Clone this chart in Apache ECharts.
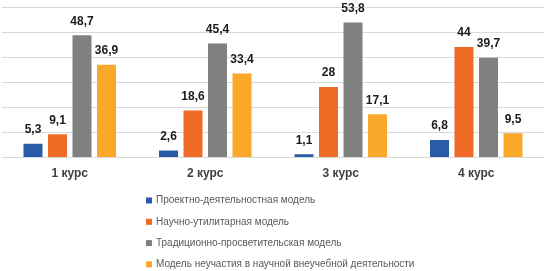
<!DOCTYPE html>
<html><head><meta charset="utf-8">
<script src="https://cdn.jsdelivr.net/npm/echarts@6/dist/echarts.min.js"></script>
<style>html,body{margin:0;padding:0;background:#fff}#c{width:548px;height:271px}</style>
</head><body><div id="c"></div>
<script>
const categories = ['1 курс', '2 курс', '3 курс', '4 курс'];
const seriesNames = ['Проектно-деятельностная модель', 'Научно-утилитарная модель', 'Традиционно-просветительская модель', 'Модель неучастия в научной внеучебной деятельности'];
const projectModel = [5.3, 2.6, 1.1, 6.8];
const utilitarianModel = [9.1, 18.6, 28, 44];
const traditionalModel = [48.7, 45.4, 53.8, 39.7];
const nonParticipation = [36.9, 33.4, 17.1, 9.5];
const colors = ['#2A5BA8', '#EE6A25', '#808080', '#F9A82A'];
const values = [projectModel, utilitarianModel, traditionalModel, nonParticipation];
const chart = echarts.init(document.getElementById('c'));
chart.setOption({
  animation: false,
  textStyle: {fontFamily: 'Liberation Sans, Arial, sans-serif'},
  grid: {left: 2, right: 4, top: 7, bottom: 114, containLabel: false},
  legend: {
    orient: 'vertical', left: 146, top: 195.5, height: 75, padding: 0, itemWidth: 6, itemHeight: 6, itemGap: 11.3,
    icon: 'rect',
    textStyle: {fontSize: 10, lineHeight: 10, color: '#595959', padding: [0,0,0,-1]},
    data: seriesNames
  },
  xAxis: {
    type: 'category', data: categories,
    axisLine: {show: true, lineStyle: {color: '#D9D9D9', width: 1}},
    axisTick: {show: false},
    axisLabel: {fontSize: 12, fontWeight: 'bold', color: '#404040', margin: 11}
  },
  yAxis: {
    type: 'value', min: 0, max: 60, interval: 10,
    axisLabel: {show: false}, axisLine: {show: false}, axisTick: {show: false},
    splitLine: {lineStyle: {color: '#D9D9D9', width: 1}}
  },
  series: values.map((v, i) => ({
    name: seriesNames[i], type: 'bar', data: v, barWidth: 19, barGap: '29%',
    itemStyle: {color: colors[i]},
    label: {show: true, position: 'top', distance: 8, fontSize: 12, fontWeight: 'bold', color: '#1A1A1A',
      formatter: p => String(p.value).replace('.', ',')}
  }))
});
</script></body></html>
